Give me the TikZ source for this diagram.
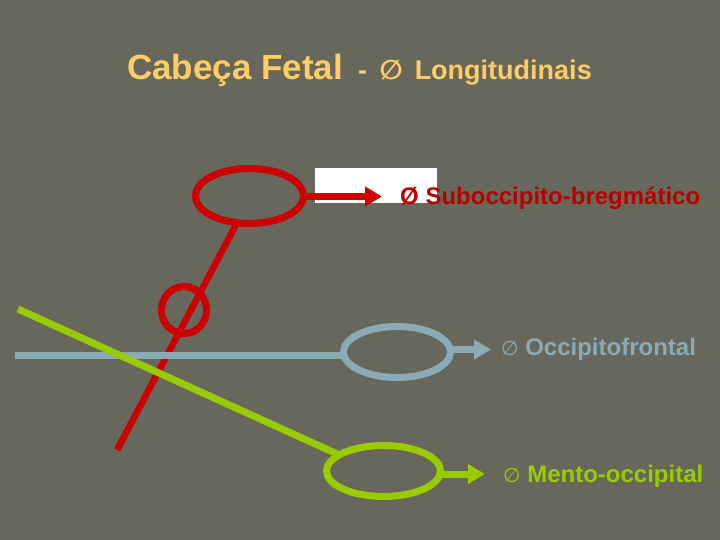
\documentclass[tikz,border=0pt]{standalone}
\usepackage{fontspec}
\setmainfont{Liberation Sans}
\newfontfamily\symfont{DejaVu Sans}
\usetikzlibrary{shapes.geometric,arrows.meta}
\definecolor{bgc}{RGB}{103,103,91}
\definecolor{ttl}{RGB}{255,204,102}
\definecolor{redc}{RGB}{204,0,0}
\definecolor{redt}{RGB}{184,0,0}
\definecolor{bluec}{RGB}{138,170,182}
\definecolor{greenc}{RGB}{153,204,0}
\begin{document}
\begin{tikzpicture}[x=1pt,y=-1pt,
  ring/.style={ellipse,draw,line width=7pt,inner sep=0pt,outer sep=0pt},
  axisline/.style={line width=7pt},
  pointer/.style={line width=7pt,-{Triangle[length=17pt,width=19pt]}},
  lbl/.style={anchor=base west,inner sep=0pt,font=\bfseries\fontsize{24}{28}\selectfont}]
\fill[bgc] (0,0) rectangle (720,540);
\useasboundingbox (0,0) rectangle (720,540);
% title
\node[anchor=base west,inner sep=0pt,text=ttl,font=\bfseries\fontsize{27}{32}\selectfont] (title) at (127,80)
  {{\fontsize{35}{40}\selectfont Cabeça Fetal}\ \ - \hspace{5pt}{\symfont\fontsize{27}{30}\selectfont ∅}\,\ Longitudinais};
% white box
\fill[white] (315,168) rectangle (437,203);
% ellipses
\node[ring,draw=redc,minimum width=108pt,minimum height=55pt] (red1) at (249.5,196) {};
\node[ring,draw=redc,minimum width=45pt,minimum height=47pt] (red2) at (184,310) {};
\node[ring,draw=bluec,minimum width=107pt,minimum height=51pt] (blue) at (397,352) {};
\node[ring,draw=greenc,minimum width=114pt,minimum height=51pt] (green) at (383.5,471) {};
% free ends
\coordinate (redend) at (117,450);
\coordinate (bluestart) at (15,355);
\coordinate (greenstart) at (18,309);
\coordinate (redtip) at (382,196.5);
\coordinate (bluetip) at (491,349.5);
\coordinate (greentip) at (485,474);
% axes (red below blue below green)
\draw[axisline,line width=6.5pt,redc] (red1.-115) -- (redend);
\draw[axisline,bluec] (bluestart) -- (bluestart -| blue.west);
\draw[axisline,greenc] (greenstart) -- (green.160);
% pointers
\draw[pointer,redc] (red1.east |- redtip) -- (redtip);
\draw[pointer,bluec] (blue.east |- bluetip) -- (bluetip);
\draw[pointer,greenc] (green.east |- greentip) -- (greentip);
% labels
\node[lbl,text=redt] (redlbl) at (400,205) {Ø Suboccipito-bregmático};
\node[lbl,text=bluec] (bluelbl) at (501,355) {{\symfont\mdseries\fontsize{20}{24}\selectfont ∅}\ Occipitofrontal};
\node[lbl,text=greenc] (greenlbl) at (503,482) {{\symfont\mdseries\fontsize{20}{24}\selectfont ∅}\ Mento-occipital};
\end{tikzpicture}
\end{document}
